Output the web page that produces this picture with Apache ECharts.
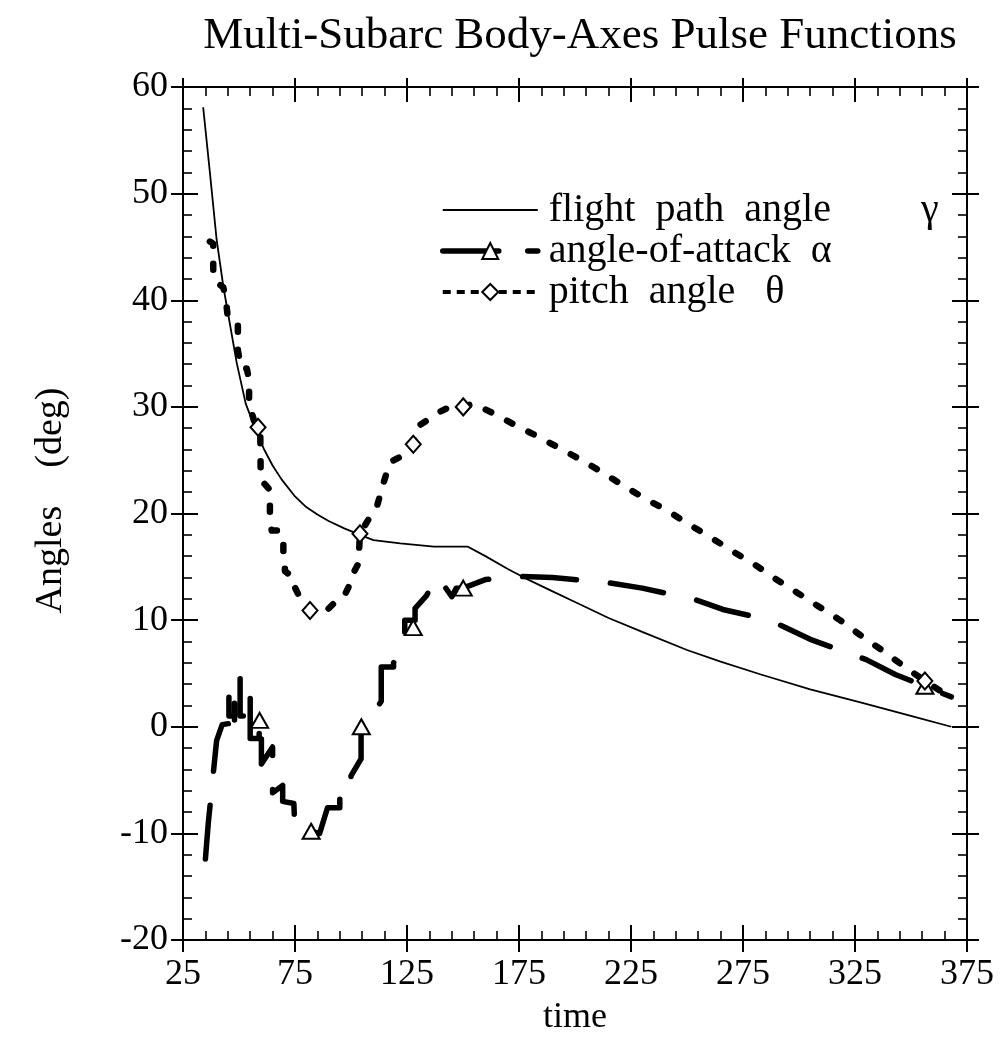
<!DOCTYPE html>
<html>
<head>
<meta charset="utf-8">
<script src="https://cdn.jsdelivr.net/npm/echarts@6/dist/echarts.min.js"></script>
<style>html,body{margin:0;padding:0;background:#fff}#c{width:1005px;height:1051px}</style>
</head>
<body>
<div id="c"></div>
<script>
// ---- data ----
const chartTitle = 'Multi-Subarc Body-Axes Pulse Functions';
const xName = 'time';
const yName = 'Angles    (deg)';
const seriesNames = ['flight  path  angle         γ', 'angle-of-attack  α', 'pitch  angle   θ'];

const xTicks = [25, 75, 125, 175, 225, 275, 325, 375];
const yTicks = [-20, -10, 0, 10, 20, 30, 40, 50, 60];

// flight path angle gamma
const gammaT = [34, 37, 40, 43, 45, 49, 53, 57, 61, 65, 69, 75, 80, 85, 90, 97, 104, 110, 122, 137, 152, 160, 170, 180, 190, 200, 215, 230, 250, 265, 283, 305, 327, 352, 368];
const gammaV = [58.1, 52, 45.7, 41.3, 38.9, 34.1, 30.3, 28.1, 26.1, 24.5, 23.2, 21.6, 20.6, 19.9, 19.3, 18.6, 18.0, 17.5, 17.2, 16.9, 16.9, 16.0, 14.8, 13.7, 12.7, 11.7, 10.2, 8.9, 7.2, 6.1, 4.9, 3.5, 2.3, 0.9, 0.0];

// angle-of-attack alpha
const alphaT = [35, 36.3, 37.6, 40, 42.5, 45.5, 45.5, 45.5, 48, 48, 48, 50.5, 50.5, 50.5, 55, 55, 55, 59, 59, 60, 60, 65, 65, 69.5, 69.5, 74.5, 74.8, 79, 80, 82, 86, 89.5, 95, 95, 100, 100, 104.5, 104.5, 109, 109, 113.5, 113.5, 119, 119, 124, 124, 128.6, 128.6, 133.7, 136, 139, 142, 145, 147, 150, 160, 175, 190, 215, 230, 254, 266, 287, 305, 330, 343, 368];
const alphaV = [-12.4, -9.0, -6.3, -1.3, 0.2, 0.3, 3.1, 1.0, 1.0, 2.2, 0.6, 0.6, 4.5, 1.0, 1.0, 3.1, -1.1, -1.1, 0.6, 0.6, -3.5, -1.9, -6.2, -5.5, -7.0, -7.2, -9.0, -9.0, -9.8, -9.8, -10.0, -7.6, -7.6, -5.4, -5.4, -4.6, -3.0, 0.0, 0.0, 0.9, 2.4, 5.6, 5.6, 6.0, 7.4, 10.0, 10.0, 11.1, 12.3, 13.2, 12.2, 13.1, 12.2, 13.0, 13.0, 13.8, 14.1, 14.0, 13.5, 13.0, 11.9, 11.0, 10.0, 8.2, 6.3, 4.9, 2.8];

// pitch angle theta
const thetaT = [37, 38.5, 38.5, 40.5, 43, 44, 45, 49.5, 49.5, 51, 53.5, 54.5, 54.5, 57, 58.5, 59.5, 59.7, 63.8, 63.8, 64.6, 68.3, 69.8, 69.8, 70.5, 70.5, 74.2, 74.2, 77.2, 81.7, 87.6, 92, 96.6, 99.6, 100, 103.3, 104, 108.5, 111.5, 114.4, 117.4, 121.9, 126.3, 127.8, 129.3, 133.7, 138.2, 144.2, 150.1, 154.6, 163.5, 173.2, 183.6, 193.3, 203, 211.9, 221.6, 231.3, 241, 250.7, 260.3, 270, 279.6, 289.3, 299, 308.6, 318.3, 328, 337.6, 346.6, 356.2, 366.6];
const thetaV = [45.5, 45.3, 42.3, 41.6, 41.2, 40.3, 38.4, 37.8, 35.3, 33.6, 33.6, 32.5, 30.3, 28.5, 28.1, 27.6, 23.2, 22.2, 19.6, 18.4, 18.4, 17.5, 16.2, 15.1, 14.6, 14.0, 13.4, 12.1, 10.9, 10.6, 11.5, 12.1, 13.4, 14.0, 15.3, 18.1, 19.7, 20.6, 22.8, 24.8, 25.3, 26.2, 26.5, 28.1, 28.7, 29.4, 30.0, 30.0, 30.3, 29.4, 28.3, 27.2, 26.1, 25.0, 23.9, 22.6, 21.4, 20.3, 19.0, 17.8, 16.5, 15.3, 13.9, 12.6, 11.3, 10.0, 8.5, 7.1, 5.7, 4.3, 2.9];

// subarc markers
const alphaMarkT = [59.2, 82.2, 104.6, 127.8, 150.1, 356.2];
const alphaMarkV = [0.6, -9.8, 0.0, 9.3, 13.0, 3.8];
const thetaMarkT = [58.5, 81.7, 104.0, 127.8, 150.1, 356.2];
const thetaMarkV = [28.1, 10.9, 18.1, 26.5, 30.0, 4.3];

// ---- chart ----
const FONT = '"Liberation Serif", "DejaVu Serif", serif';
const zip = (a, b) => a.map((v, i) => [v, b[i]]);
const BLACK = '#000';

function xAx(pos, inside, withLabel, tickLen, minor) {
  return {
    type: 'value', position: pos, min: xTicks[0], max: xTicks[xTicks.length - 1], interval: 50,
    splitLine: { show: false },
    axisLine: { show: true, onZero: false, lineStyle: { color: BLACK, width: 2 } },
    axisTick: { show: true, inside: inside, length: tickLen, lineStyle: { color: BLACK, width: 2 } },
    minorTick: { show: minor, splitNumber: 5, length: 9, lineStyle: { color: BLACK, width: 1.6 } },
    minorSplitLine: { show: false },
    axisLabel: { show: withLabel, color: BLACK, fontFamily: FONT, fontSize: 36, margin: 17 },
    name: withLabel ? xName : '', nameLocation: 'middle', nameGap: 60,
    nameTextStyle: { color: BLACK, fontFamily: FONT, fontSize: 36 }
  };
}
function yAx(pos, inside, withLabel, tickLen, minor) {
  return {
    type: 'value', position: pos, min: yTicks[0], max: yTicks[yTicks.length - 1], interval: 10,
    splitLine: { show: false },
    axisLine: { show: true, onZero: false, lineStyle: { color: BLACK, width: 2 } },
    axisTick: { show: true, inside: inside, length: tickLen, lineStyle: { color: BLACK, width: 2 } },
    minorTick: { show: minor, splitNumber: 5, length: 9, lineStyle: { color: BLACK, width: 1.6 } },
    minorSplitLine: { show: false },
    axisLabel: { show: withLabel, color: BLACK, fontFamily: FONT, fontSize: 36, margin: 15 },
    name: withLabel ? yName : '', nameLocation: 'middle', nameGap: 113, nameRotate: 90,
    nameTextStyle: { color: BLACK, fontFamily: FONT, fontSize: 38, padding: [0, 0, 0, 26] }
  };
}

const chart = echarts.init(document.getElementById('c'), null, { renderer: 'canvas' });
chart.setOption({
  animation: false,
  backgroundColor: '#fff',
  title: {
    text: chartTitle, left: 575, top: 9, textAlign: 'center',
    textStyle: { color: BLACK, fontFamily: FONT, fontSize: 45, fontWeight: 'normal' }
  },
  grid: { left: 183, top: 87, width: 784, height: 853, containLabel: false, outerBoundsMode: 'none' },
  xAxis: [
    xAx('bottom', true, true, 15, true),
    xAx('bottom', false, false, 12, false),
    xAx('top', true, false, 15, true),
    xAx('top', false, false, 9, false)
  ],
  yAxis: [
    yAx('left', true, true, 15, true),
    yAx('left', false, false, 12, false),
    yAx('right', true, false, 15, true),
    yAx('right', false, false, 12, false)
  ],
  legend: {
    data: [
      { name: seriesNames[0] },
      { name: seriesNames[1], lineStyle: { type: [56, 29] } },
      { name: seriesNames[2], lineStyle: { type: [8, 6], width: 4, cap: 'butt' } }
    ],
    orient: 'vertical', left: 440, top: 190, padding: 0,
    itemWidth: 95, itemHeight: 20, itemGap: 1,
    lineStyle: { width: 'inherit' },
    textStyle: { color: BLACK, fontFamily: FONT, fontSize: 40, lineHeight: 38, padding: [0, 0, 0, 6] },
    inactiveColor: '#000'
  },
  series: [
    {
      name: seriesNames[0], type: 'line', data: zip(gammaT, gammaV),
      symbol: 'circle', symbolSize: 0, showSymbol: false,
      itemStyle: { color: 'rgba(0,0,0,0)' },
      lineStyle: { color: BLACK, width: 1.8 }, z: 3
    },
    {
      name: seriesNames[1], type: 'line', data: zip(alphaT, alphaV),
      symbol: 'emptyTriangle', showSymbol: false,
      itemStyle: { color: BLACK },
      lineStyle: { color: BLACK, width: 5.5, type: [54, 34], cap: 'round', join: 'round' }, z: 4
    },
    {
      name: seriesNames[2], type: 'line', data: zip(thetaT, thetaV),
      symbol: 'emptyDiamond', showSymbol: false,
      itemStyle: { color: BLACK },
      lineStyle: { color: BLACK, width: 6.5, type: [6, 18], cap: 'round', join: 'round' }, z: 4
    },
    {
      type: 'scatter', data: zip(alphaMarkT, alphaMarkV), symbol: 'triangle', symbolSize: [17, 15],
      itemStyle: { color: '#fff', borderColor: BLACK, borderWidth: 2, opacity: 1 }, z: 6
    },
    {
      type: 'scatter', data: zip(thetaMarkT, thetaMarkV), symbol: 'diamond', symbolSize: [15, 17],
      itemStyle: { color: '#fff', borderColor: BLACK, borderWidth: 2, opacity: 1 }, z: 6
    }
  ]
});
</script>
</body>
</html>
